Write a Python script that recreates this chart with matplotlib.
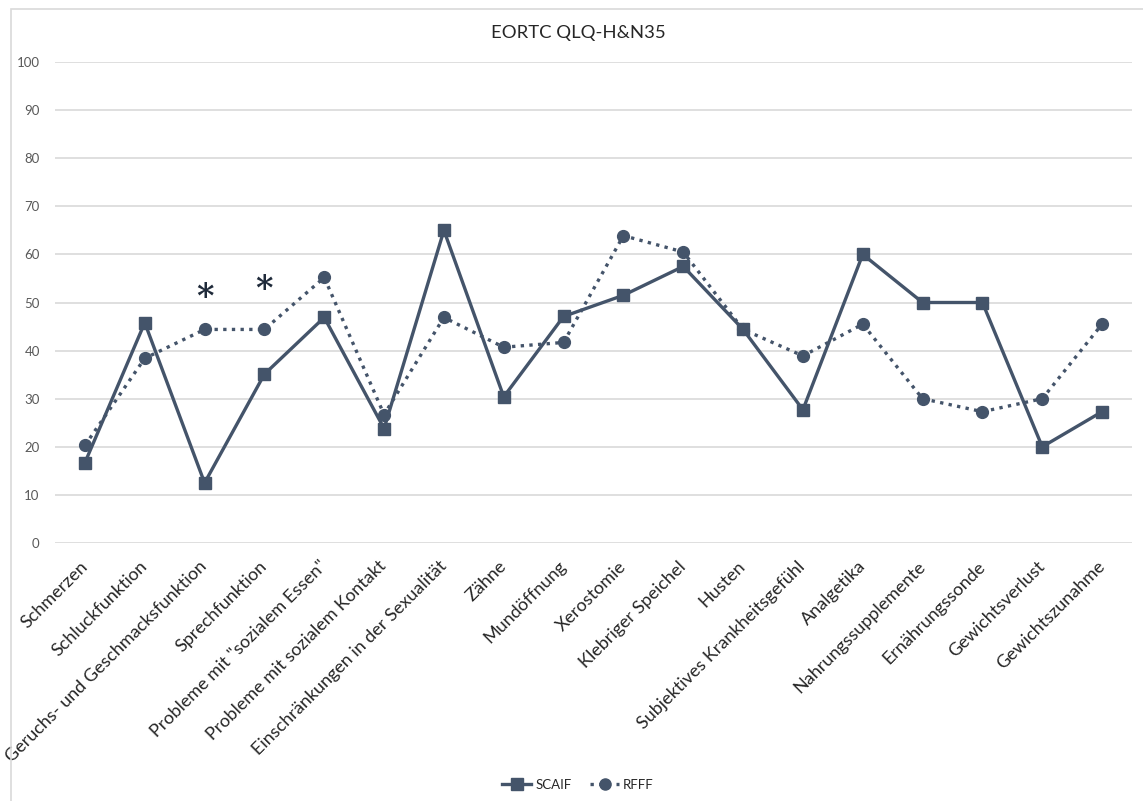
import matplotlib
matplotlib.use("Agg")
import matplotlib.pyplot as plt
from matplotlib.lines import Line2D
from matplotlib.patches import Rectangle

categories = [
    "Schmerzen", "Schluckfunktion", "Geruchs- und Geschmacksfunktion",
    "Sprechfunktion", 'Probleme mit "sozialem Essen"',
    "Probleme mit sozialem Kontakt", "Einschränkungen in der Sexualität",
    "Zähne", "Mundöffnung", "Xerostomie", "Klebriger Speichel", "Husten",
    "Subjektives Krankheitsgefühl", "Analgetika", "Nahrungssupplemente",
    "Ernährungssonde", "Gewichtsverlust", "Gewichtszunahme",
]
scaif = [16.7, 45.8, 12.5, 35.1, 46.9, 23.8, 65.0, 30.4, 47.1, 51.5,
         57.5, 44.4, 27.7, 60.0, 50.0, 50.0, 20.0, 27.3]
rfff = [20.3, 38.4, 44.4, 44.4, 55.2, 26.7, 46.9, 40.7, 41.7, 63.9,
        60.5, 44.4, 38.9, 45.5, 30.0, 27.3, 30.0, 45.5]
significant = [2, 3]
star_y = [51.0, 52.6]
yticks = list(range(0, 101, 10))

color = "#44546a"
font = "Lato"

fig = plt.figure(figsize=(11.43, 8.01), dpi=100)
fig.patches.append(Rectangle((11 / 1143, -0.01), 1.02, 1 - 9 / 801 + 0.01,
                             transform=fig.transFigure, fill=False,
                             edgecolor="#d9d9d9", linewidth=1.2))

ax = fig.add_axes([55 / 1143, 1 - 543 / 801, (1132 - 55) / 1143, (543 - 62) / 801])
x = list(range(len(categories)))

ax.plot(x, scaif, color=color, linewidth=2.4, marker="s", markersize=8.5,
        label="SCAIF", zorder=3)
ax.plot(x, rfff, color=color, linewidth=2.4, linestyle=(0, (1, 1.6)),
        marker="o", markersize=8.5, label="RFFF", zorder=3)

for i, sy in zip(significant, star_y):
    ax.text(i, sy, "*", ha="center", va="center", fontsize=24,
            family="DejaVu Serif", fontweight="bold", color="#1f2a3a")

ax.set_xlim(-0.5, len(categories) - 0.5)
ax.set_ylim(0, 100)
ax.set_yticks(yticks)
ax.grid(axis="y", color="#d9d9d9", linewidth=1.2)
ax.set_axisbelow(True)
for s in ax.spines.values():
    s.set_visible(False)
ax.tick_params(axis="both", length=0)
ax.tick_params(axis="y", pad=11, labelsize=9.5, labelcolor="#595959")
ax.set_xticks(x)
ax.set_xticklabels(categories, rotation=45, ha="right", va="center",
                   rotation_mode="anchor", fontsize=13, color="#262626",
                   family=font)
ax.tick_params(axis="x", pad=15)
for lab in ax.get_yticklabels():
    lab.set_family(font)

fig.text(578 / 1143, 1 - 33 / 801, "EORTC QLQ-H&N35", ha="center", va="center",
         fontsize=13.3, color="#262626", family=font)

handles = [
    Line2D([], [], color=color, linewidth=2.4, marker="s", markersize=8),
    Line2D([], [], color=color, linewidth=2.4, linestyle=(0, (1, 1.6)),
           marker="o", markersize=8),
]
fig.legend(handles, ["SCAIF", "RFFF"], loc="center",
           bbox_to_anchor=(578 / 1143, 1 - 785 / 801), ncol=2, frameon=False,
           prop={"family": font, "size": 9.5}, handlelength=2.2,
           columnspacing=1.4, handletextpad=0.3, labelcolor="#262626")

fig.savefig("out.png", dpi=100, facecolor="white")
